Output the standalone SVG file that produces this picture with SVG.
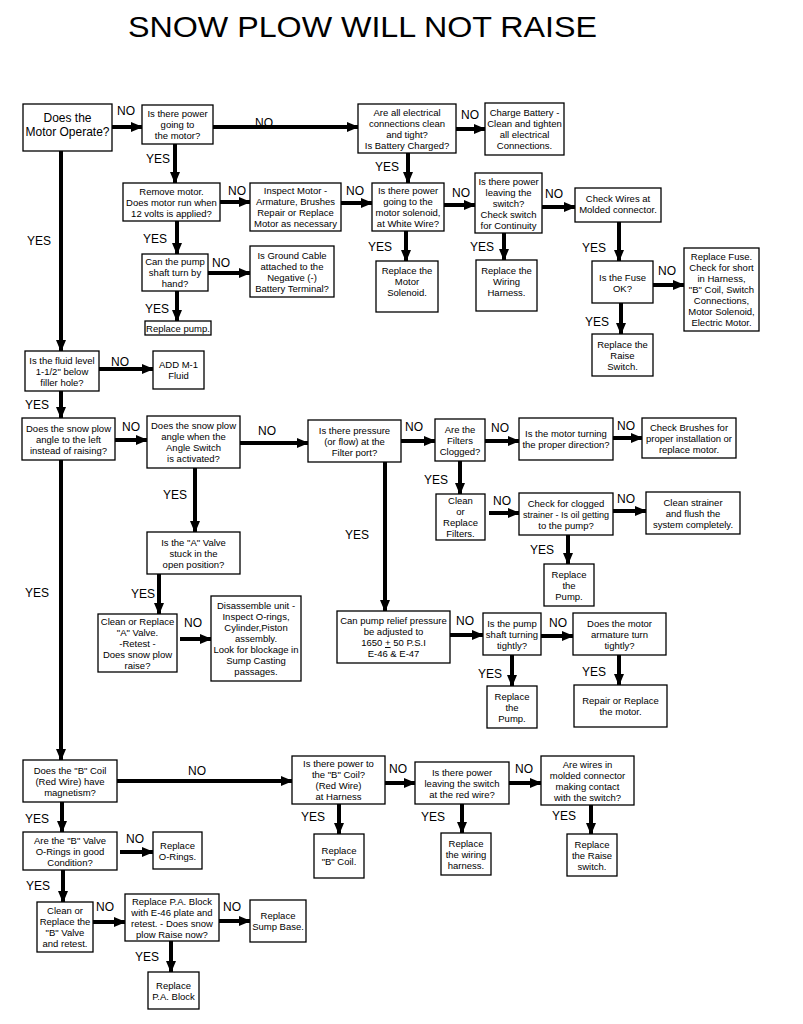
<svg xmlns="http://www.w3.org/2000/svg" width="803" height="1024" viewBox="0 0 803 1024">
<defs>
<marker id="ah" markerUnits="userSpaceOnUse" markerWidth="12" markerHeight="10" refX="11" refY="5" orient="auto"><path d="M0,0 L12,5 L0,10 Z" fill="#000"/></marker>
<style>
rect{fill:#fff;stroke:#000;stroke-width:1.3}
text{font-family:"Liberation Sans",Arial,sans-serif;fill:#000}
.b{font-size:9.5px;text-anchor:middle}
.l{font-size:12px}
#connectors line{stroke:#000;stroke-width:4;marker-end:url(#ah)}
</style>
</defs>
<rect x="0" y="0" width="803" height="1024" style="stroke:none"/>
<text x="128" y="37" font-size="30" textLength="469" lengthAdjust="spacingAndGlyphs">SNOW PLOW WILL NOT RAISE</text>

<g id="connectors">
<line x1="112" y1="127" x2="142" y2="127"/>
<line x1="213" y1="127" x2="358" y2="127"/>
<line x1="456" y1="129" x2="485" y2="129"/>
<line x1="408" y1="153" x2="408" y2="183"/>
<line x1="175" y1="144" x2="175" y2="183"/>
<line x1="220" y1="202" x2="250" y2="202"/>
<line x1="341" y1="203" x2="372" y2="203"/>
<line x1="444" y1="205" x2="475" y2="205"/>
<line x1="542" y1="207" x2="575" y2="207"/>
<line x1="406" y1="231" x2="406" y2="261"/>
<line x1="504" y1="233" x2="504" y2="260"/>
<line x1="619" y1="222" x2="619" y2="261"/>
<line x1="653" y1="285" x2="684" y2="285"/>
<line x1="621" y1="303" x2="621" y2="334"/>
<line x1="177" y1="221" x2="177" y2="254"/>
<line x1="208" y1="273" x2="250" y2="273"/>
<line x1="177" y1="291" x2="177" y2="321"/>
<line x1="61" y1="151" x2="61" y2="351"/>
<line x1="99" y1="369" x2="153" y2="369"/>
<line x1="61" y1="391" x2="61" y2="418"/>
<line x1="115" y1="440" x2="147" y2="440"/>
<line x1="240" y1="443" x2="308" y2="443"/>
<line x1="195" y1="468" x2="195" y2="532"/>
<line x1="159" y1="574" x2="159" y2="614"/>
<line x1="180" y1="639" x2="211" y2="639"/>
<line x1="61" y1="460" x2="61" y2="760"/>
<line x1="401" y1="441" x2="435" y2="441"/>
<line x1="485" y1="441" x2="519" y2="441"/>
<line x1="613" y1="438" x2="642" y2="438"/>
<line x1="460" y1="461" x2="460" y2="494"/>
<line x1="489" y1="513" x2="519" y2="513"/>
<line x1="613" y1="511" x2="646" y2="511"/>
<line x1="568" y1="535" x2="568" y2="564"/>
<line x1="385" y1="462" x2="385" y2="611"/>
<line x1="450" y1="635" x2="483" y2="635"/>
<line x1="541" y1="636" x2="573" y2="636"/>
<line x1="512" y1="655" x2="512" y2="686"/>
<line x1="619" y1="655" x2="619" y2="685"/>
<line x1="117" y1="781" x2="292" y2="781"/>
<line x1="385" y1="783" x2="415" y2="783"/>
<line x1="509" y1="783" x2="541" y2="783"/>
<line x1="339" y1="804" x2="339" y2="834"/>
<line x1="462" y1="804" x2="462" y2="833"/>
<line x1="591" y1="805" x2="591" y2="834"/>
<line x1="62" y1="802" x2="62" y2="832"/>
<line x1="120" y1="852" x2="153" y2="852"/>
<line x1="63" y1="870" x2="63" y2="902"/>
<line x1="93" y1="922" x2="125" y2="922"/>
<line x1="219" y1="921" x2="250" y2="921"/>
<line x1="171" y1="941" x2="171" y2="972"/>
</g>

<g id="labels" class="l">
<text x="117" y="115">NO</text><text x="255" y="127">NO</text><text x="461" y="119">NO</text>
<text x="375" y="171">YES</text><text x="146" y="163">YES</text>
<text x="228" y="195">NO</text><text x="346" y="195">NO</text><text x="452" y="197">NO</text><text x="545" y="198">NO</text>
<text x="368" y="251">YES</text><text x="470" y="251">YES</text><text x="582" y="252">YES</text>
<text x="658" y="275">NO</text><text x="585" y="326">YES</text>
<text x="143" y="243">YES</text><text x="212" y="267">NO</text><text x="145" y="313">YES</text>
<text x="27" y="245">YES</text><text x="111" y="366">NO</text><text x="25" y="409">YES</text>
<text x="122" y="431">NO</text><text x="258" y="435">NO</text><text x="163" y="499">YES</text>
<text x="131" y="598">YES</text><text x="184" y="627">NO</text><text x="25" y="597">YES</text>
<text x="405" y="431">NO</text><text x="491" y="432">NO</text><text x="617" y="430">NO</text>
<text x="424" y="484">YES</text><text x="493" y="505">NO</text><text x="617" y="503">NO</text>
<text x="530" y="554">YES</text><text x="345" y="539">YES</text>
<text x="456" y="625">NO</text><text x="549" y="627">NO</text>
<text x="478" y="678">YES</text><text x="582" y="676">YES</text>
<text x="188" y="775">NO</text><text x="389" y="773">NO</text><text x="515" y="773">NO</text>
<text x="301" y="821">YES</text><text x="421" y="821">YES</text><text x="552" y="820">YES</text>
<text x="25" y="823">YES</text><text x="126" y="843">NO</text><text x="26" y="890">YES</text>
<text x="96" y="911">NO</text><text x="223" y="911">NO</text><text x="135" y="961">YES</text>
</g>

<g id="n1"><rect x="23" y="104" width="89" height="47"/><text class="b" style="font-size:12px" x="67.5" y="122"><tspan x="67.5">Does the</tspan><tspan x="67.5" dy="14">Motor Operate?</tspan></text></g>
<g id="n2"><rect x="142" y="105" width="71" height="39"/><text class="b" x="177.5" y="117"><tspan x="177.5">Is  there power</tspan><tspan x="177.5" dy="11">going to</tspan><tspan x="177.5" dy="11">the motor?</tspan></text></g>
<g id="n3"><rect x="358" y="104" width="98" height="49"/><text class="b" x="407" y="115.5"><tspan x="407">Are all electrical</tspan><tspan x="407" dy="11">connections clean</tspan><tspan x="407" dy="11">and tight?</tspan><tspan x="407" dy="11">Is Battery Charged?</tspan></text></g>
<g id="n4"><rect x="485" y="103" width="79" height="52"/><text class="b" x="524.5" y="116"><tspan x="524.5">Charge Battery -</tspan><tspan x="524.5" dy="11">Clean and tighten</tspan><tspan x="524.5" dy="11">all electrical</tspan><tspan x="524.5" dy="11">Connections.</tspan></text></g>
<g id="n5"><rect x="123" y="183" width="97" height="38"/><text class="b" x="171.5" y="194.5"><tspan x="171.5">Remove motor.</tspan><tspan x="171.5" dy="11">Does motor run when</tspan><tspan x="171.5" dy="11">12 volts is applied?</tspan></text></g>
<g id="n6"><rect x="250" y="183" width="91" height="48"/><text class="b" x="295.5" y="194"><tspan x="295.5">Inspect Motor -</tspan><tspan x="295.5" dy="11">Armature, Brushes</tspan><tspan x="295.5" dy="11">Repair or Replace</tspan><tspan x="295.5" dy="11">Motor as necessary</tspan></text></g>
<g id="n7"><rect x="372" y="183" width="72" height="48"/><text class="b" x="408" y="194"><tspan x="408">Is there power</tspan><tspan x="408" dy="11">going to the</tspan><tspan x="408" dy="11">motor solenoid,</tspan><tspan x="408" dy="11">at White Wire?</tspan></text></g>
<g id="n8"><rect x="475" y="173" width="67" height="60"/><text class="b" x="508.5" y="184.5"><tspan x="508.5">Is there power</tspan><tspan x="508.5" dy="11">leaving the</tspan><tspan x="508.5" dy="11">switch?</tspan><tspan x="508.5" dy="11">Check switch</tspan><tspan x="508.5" dy="11">for Continuity</tspan></text></g>
<g id="n9"><rect x="575" y="188" width="86" height="34"/><text class="b" x="618" y="202"><tspan x="618">Check Wires at</tspan><tspan x="618" dy="11">Molded connector.</tspan></text></g>
<g id="n10"><rect x="142" y="254" width="66" height="37"/><text class="b" x="175" y="265"><tspan x="175">Can the pump</tspan><tspan x="175" dy="11">shaft turn by</tspan><tspan x="175" dy="11">hand?</tspan></text></g>
<g id="n11"><rect x="250" y="246" width="84" height="51"/><text class="b" x="292" y="258.5"><tspan x="292">Is Ground Cable</tspan><tspan x="292" dy="11">attached to the</tspan><tspan x="292" dy="11">Negative (-)</tspan><tspan x="292" dy="11">Battery Terminal?</tspan></text></g>
<g id="n12"><rect x="145" y="321" width="66" height="14"/><text class="b" x="178" y="331.5">Replace pump.</text></g>
<g id="n13"><rect x="376" y="261" width="62" height="51"/><text class="b" x="407" y="274"><tspan x="407">Replace the</tspan><tspan x="407" dy="11">Motor</tspan><tspan x="407" dy="11">Solenoid.</tspan></text></g>
<g id="n14"><rect x="476" y="260" width="61" height="51"/><text class="b" x="506.5" y="274"><tspan x="506.5">Replace the</tspan><tspan x="506.5" dy="11">Wiring</tspan><tspan x="506.5" dy="11">Harness.</tspan></text></g>
<g id="n15"><rect x="592" y="261" width="61" height="42"/><text class="b" x="622.5" y="281"><tspan x="622.5">Is the Fuse</tspan><tspan x="622.5" dy="11">OK?</tspan></text></g>
<g id="n16"><rect x="684" y="248" width="75" height="83"/><text class="b" x="721.5" y="260"><tspan x="721.5">Replace Fuse.</tspan><tspan x="721.5" dy="11">Check for short</tspan><tspan x="721.5" dy="11">in Harness,</tspan><tspan x="721.5" dy="11">"B" Coil, Switch</tspan><tspan x="721.5" dy="11">Connections,</tspan><tspan x="721.5" dy="11">Motor Solenoid,</tspan><tspan x="721.5" dy="11">Electric Motor.</tspan></text></g>
<g id="n17"><rect x="592" y="334" width="61" height="42"/><text class="b" x="622.5" y="347.5"><tspan x="622.5">Replace the</tspan><tspan x="622.5" dy="11">Raise</tspan><tspan x="622.5" dy="11">Switch.</tspan></text></g>
<g id="n18"><rect x="25" y="351" width="74" height="40"/><text class="b" x="62" y="363.5"><tspan x="62">Is the fluid level</tspan><tspan x="62" dy="11">1-1/2" below</tspan><tspan x="62" dy="11">filler hole?</tspan></text></g>
<g id="n19"><rect x="153" y="351" width="51" height="38"/><text class="b" x="178.5" y="368"><tspan x="178.5">ADD M-1</tspan><tspan x="178.5" dy="11">Fluid</tspan></text></g>
<g id="n20"><rect x="22" y="418" width="93" height="42"/><text class="b" x="68.5" y="431.5"><tspan x="68.5">Does the snow plow</tspan><tspan x="68.5" dy="11">angle to the left</tspan><tspan x="68.5" dy="11">instead of raising?</tspan></text></g>
<g id="n21"><rect x="147" y="416" width="93" height="52"/><text class="b" x="193.5" y="429"><tspan x="193.5">Does the snow plow</tspan><tspan x="193.5" dy="11">angle when the</tspan><tspan x="193.5" dy="11">Angle Switch</tspan><tspan x="193.5" dy="11">is activated?</tspan></text></g>
<g id="n22"><rect x="308" y="420" width="93" height="42"/><text class="b" x="354.5" y="433.5"><tspan x="354.5">Is there pressure</tspan><tspan x="354.5" dy="11">(or flow) at the</tspan><tspan x="354.5" dy="11">Filter port?</tspan></text></g>
<g id="n23"><rect x="147" y="532" width="93" height="42"/><text class="b" x="193.5" y="545.5"><tspan x="193.5">Is the "A" Valve</tspan><tspan x="193.5" dy="11">stuck in the</tspan><tspan x="193.5" dy="11">open position?</tspan></text></g>
<g id="n24"><rect x="98" y="614" width="79" height="58"/><text class="b" x="137.5" y="624.5"><tspan x="137.5">Clean or Replace</tspan><tspan x="137.5" dy="11">"A" Valve.</tspan><tspan x="137.5" dy="11">-Retest -</tspan><tspan x="137.5" dy="11">Does snow plow</tspan><tspan x="137.5" dy="11">raise?</tspan></text></g>
<g id="n25"><rect x="211" y="596" width="90" height="85"/><text class="b" x="256" y="609"><tspan x="256">Disassemble unit -</tspan><tspan x="256" dy="11">Inspect O-rings,</tspan><tspan x="256" dy="11">Cylinder,Piston</tspan><tspan x="256" dy="11">assembly.</tspan><tspan x="256" dy="11">Look for blockage in</tspan><tspan x="256" dy="11">Sump Casting</tspan><tspan x="256" dy="11">passages.</tspan></text></g>
<g id="n26"><rect x="337" y="611" width="113" height="52"/><text class="b" x="393.5" y="624"><tspan x="393.5">Can pump relief pressure</tspan><tspan x="393.5" dy="11">be adjusted to</tspan><tspan x="393.5" dy="11">1650 <tspan text-decoration="underline">+</tspan>  50 P.S.I</tspan><tspan x="393.5" dy="11">E-46 &amp; E-47</tspan></text></g>
<g id="n27"><rect x="435" y="419" width="50" height="42"/><text class="b" x="460" y="432.5"><tspan x="460">Are the</tspan><tspan x="460" dy="11">Filters</tspan><tspan x="460" dy="11">Clogged?</tspan></text></g>
<g id="n28"><rect x="519" y="418" width="94" height="42"/><text class="b" x="566" y="437"><tspan x="566">Is the motor turning</tspan><tspan x="566" dy="11">the proper direction?</tspan></text></g>
<g id="n29"><rect x="642" y="418" width="94" height="40"/><text class="b" x="689" y="430.5"><tspan x="689">Check Brushes for</tspan><tspan x="689" dy="11">proper installation or</tspan><tspan x="689" dy="11">replace motor.</tspan></text></g>
<g id="n30"><rect x="436" y="494" width="49" height="46"/><text class="b" x="460.5" y="504"><tspan x="460.5">Clean</tspan><tspan x="460.5" dy="11">or</tspan><tspan x="460.5" dy="11">Replace</tspan><tspan x="460.5" dy="11">Filters.</tspan></text></g>
<g id="n31"><rect x="519" y="493" width="94" height="42"/><text class="b" x="566" y="506.5"><tspan x="566">Check for clogged</tspan><tspan x="566" dy="11" style="font-size:9px">strainer - Is oil getting</tspan><tspan x="566" dy="11">to the pump?</tspan></text></g>
<g id="n32"><rect x="646" y="492" width="94" height="42"/><text class="b" x="693" y="505.5"><tspan x="693">Clean strainer</tspan><tspan x="693" dy="11">and flush the</tspan><tspan x="693" dy="11">system completely.</tspan></text></g>
<g id="n33"><rect x="544" y="564" width="50" height="42"/><text class="b" x="569" y="577.5"><tspan x="569">Replace</tspan><tspan x="569" dy="11">the</tspan><tspan x="569" dy="11">Pump.</tspan></text></g>
<g id="n34"><rect x="483" y="613" width="58" height="42"/><text class="b" x="512" y="626.5"><tspan x="512">Is the pump</tspan><tspan x="512" dy="11">shaft turning</tspan><tspan x="512" dy="11">tightly?</tspan></text></g>
<g id="n35"><rect x="573" y="613" width="93" height="42"/><text class="b" x="619.5" y="626.5"><tspan x="619.5">Does the motor</tspan><tspan x="619.5" dy="11">armature turn</tspan><tspan x="619.5" dy="11">tightly?</tspan></text></g>
<g id="n36"><rect x="487" y="686" width="50" height="42"/><text class="b" x="512" y="699.5"><tspan x="512">Replace</tspan><tspan x="512" dy="11">the</tspan><tspan x="512" dy="11">Pump.</tspan></text></g>
<g id="n37"><rect x="574" y="685" width="93" height="42"/><text class="b" x="620.5" y="704"><tspan x="620.5">Repair or Replace</tspan><tspan x="620.5" dy="11">the motor.</tspan></text></g>
<g id="n38"><rect x="23" y="760" width="94" height="42"/><text class="b" x="70" y="773.5"><tspan x="70">Does the "B" Coil</tspan><tspan x="70" dy="11">(Red Wire) have</tspan><tspan x="70" dy="11">magnetism?</tspan></text></g>
<g id="n39"><rect x="23" y="832" width="94" height="38"/><text class="b" x="70" y="843.5"><tspan x="70">Are the "B" Valve</tspan><tspan x="70" dy="11">O-Rings in good</tspan><tspan x="70" dy="11">Condition?</tspan></text></g>
<g id="n40"><rect x="153" y="832" width="49" height="37"/><text class="b" x="177.5" y="848.5"><tspan x="177.5">Replace</tspan><tspan x="177.5" dy="11">O-Rings.</tspan></text></g>
<g id="n41"><rect x="37" y="902" width="56" height="50"/><text class="b" x="65" y="914"><tspan x="65">Clean or</tspan><tspan x="65" dy="11">Replace the</tspan><tspan x="65" dy="11">"B" Valve</tspan><tspan x="65" dy="11">and retest.</tspan></text></g>
<g id="n42"><rect x="125" y="894" width="94" height="47"/><text class="b" x="172" y="904.5"><tspan x="172">Replace P.A. Block</tspan><tspan x="172" dy="11">with E-46 plate and</tspan><tspan x="172" dy="11">retest.  - Does snow</tspan><tspan x="172" dy="11">plow Raise now?</tspan></text></g>
<g id="n43"><rect x="250" y="900" width="56" height="42"/><text class="b" x="278" y="919"><tspan x="278">Replace</tspan><tspan x="278" dy="11">Sump Base.</tspan></text></g>
<g id="n44"><rect x="148" y="972" width="51" height="37"/><text class="b" x="173.5" y="988.5"><tspan x="173.5">Replace</tspan><tspan x="173.5" dy="11">P.A. Block</tspan></text></g>
<g id="n45"><rect x="292" y="756" width="93" height="48"/><text class="b" x="338.5" y="767"><tspan x="338.5">Is there power to</tspan><tspan x="338.5" dy="11">the "B" Coil?</tspan><tspan x="338.5" dy="11">(Red Wire)</tspan><tspan x="338.5" dy="11">at Harness</tspan></text></g>
<g id="n46"><rect x="415" y="762" width="94" height="42"/><text class="b" x="462" y="775.5"><tspan x="462">Is there power</tspan><tspan x="462" dy="11">leaving the switch</tspan><tspan x="462" dy="11">at the red wire?</tspan></text></g>
<g id="n47"><rect x="541" y="756" width="93" height="49"/><text class="b" x="587.5" y="767.5"><tspan x="587.5">Are wires in</tspan><tspan x="587.5" dy="11">molded connector</tspan><tspan x="587.5" dy="11">making contact</tspan><tspan x="587.5" dy="11">with the switch?</tspan></text></g>
<g id="n48"><rect x="314" y="834" width="50" height="44"/><text class="b" x="339" y="854"><tspan x="339">Replace</tspan><tspan x="339" dy="11">"B" Coil.</tspan></text></g>
<g id="n49"><rect x="441" y="833" width="50" height="42"/><text class="b" x="466" y="846.5"><tspan x="466">Replace</tspan><tspan x="466" dy="11">the wiring</tspan><tspan x="466" dy="11">harness.</tspan></text></g>
<g id="n50"><rect x="567" y="834" width="50" height="42"/><text class="b" x="592" y="847.5"><tspan x="592">Replace</tspan><tspan x="592" dy="11">the Raise</tspan><tspan x="592" dy="11">switch.</tspan></text></g>
</svg>
